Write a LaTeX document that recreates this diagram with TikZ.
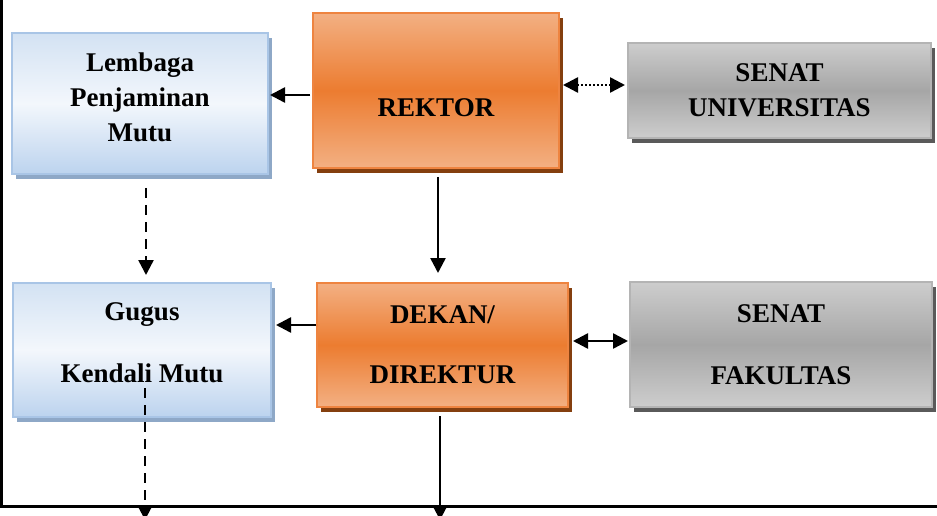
\documentclass[tikz,border=0pt]{standalone}
\usepackage{fontspec}
\setmainfont{Liberation Serif}
\usepackage{tikz}
\usetikzlibrary{shadows}
\usetikzlibrary{arrows.meta}

\definecolor{blueline}{HTML}{A9C5E6}
\definecolor{blueshade}{HTML}{8EA8C7}
\definecolor{bluetop}{HTML}{D3E2F3}
\definecolor{bluemid}{HTML}{F3F7FC}
\definecolor{bluebottom}{HTML}{BCD3EE}
\definecolor{orangeline}{HTML}{EE8440}
\definecolor{orangeshade}{HTML}{843F0F}
\definecolor{orangelight}{HTML}{F3B083}
\definecolor{orangemid}{HTML}{EC7C30}
\definecolor{grayline}{HTML}{B4B4B4}
\definecolor{grayshade}{HTML}{5A5A5A}
\definecolor{graylight}{HTML}{CDCDCD}
\definecolor{graymid}{HTML}{A6A6A6}

\begin{document}
\begin{tikzpicture}[
            x=1pt, y=1pt,
            font=\fontsize{27}{35}\selectfont\bfseries,
            >={Triangle[length=15pt, width=15pt]},
            box/.style={rectangle, inner sep=0pt, outer sep=0pt, line width=1.5pt, align=center,
                drop shadow={fill=#1, opacity=1, shadow xshift=4pt, shadow yshift=-5pt}},
            blue node/.style={box=blueshade, draw=blueline, top color=bluetop, bottom color=bluebottom, middle color=bluemid},
            orange node/.style={box=orangeshade, draw=orangeline, top color=orangelight, bottom color=orangelight, middle color=orangemid},
            gray node/.style={box=grayshade, draw=grayline, top color=graylight, bottom color=graylight, middle color=graymid},
            arrow/.style={line width=2.5pt, ->},
            dashed arrow/.style={arrow, dash pattern=on 10pt off 7pt},
            ]
            \useasboundingbox (0,0) rectangle (937,515);
            \clip (0,0) rectangle (937,515);

            % frame
            \draw[line width=2.5pt] (1.5,515) -- (1.5,8.5) -- (937,8.5);

            \node[blue node, minimum width=256pt, minimum height=141pt, text depth=13pt] (lpm) at (140,411.5) {Lembaga\\Penjaminan\\Mutu};
            \node[orange node, minimum width=246pt, minimum height=155pt, text height=52pt, text depth=0pt] (rektor) at (436,424.5) {REKTOR};
            \node[gray node, minimum width=303pt, minimum height=95pt] (senatu) at (779.5,424.5) {SENAT\\UNIVERSITAS};
            \node[blue node, minimum width=258pt, minimum height=134pt, text depth=14pt] (gugus) at (142,165) {Gugus\\[27pt]Kendali Mutu};
            \node[orange node, minimum width=251pt, minimum height=124pt] (dekan) at (442.5,170) {DEKAN/\\[25pt]DIREKTUR};
            \node[gray node, minimum width=302pt, minimum height=125pt] (senatf) at (781,170.5) {SENAT\\[27pt]FAKULTAS};
            \coordinate (gout) at (145,-5);
            \coordinate (dout) at (440,-5);

            \draw[arrow, shorten <=3pt, shorten >=2pt] ([yshift=-4.5pt]rektor.west) -- ([yshift=-4.5pt]rektor.west -| lpm.east);
            \draw[line width=2.5pt, dash pattern=on 2pt off 2pt, <->, shorten <=4pt, shorten >=3pt] ([yshift=5.5pt]rektor.east) -- ([yshift=5.5pt]rektor.east -| senatu.west);
            \draw[arrow, shorten <=9pt, shorten >=10pt] ([xshift=2pt]rektor.south) -- ([xshift=2pt]rektor.south |- dekan.north);
            \draw[dashed arrow, shorten <=14pt, shorten >=8pt] ([xshift=6pt]lpm.south) -- ([xshift=6pt]lpm.south |- gugus.north);
            \draw[arrow, shorten <=1pt, shorten >=5pt] ([yshift=20pt]dekan.west) -- ([yshift=20pt]dekan.west -| gugus.east);
            \draw[line width=2.5pt, <->, shorten <=5pt, shorten >=2pt] ([yshift=4pt]dekan.east) -- ([yshift=4pt]dekan.east -| senatf.west);
            \draw[dashed arrow] ([xshift=3pt, yshift=-38pt]gugus.center) -- (gout);
            \draw[arrow, shorten <=9pt] ([xshift=-2.5pt]dekan.south) -- (dout);
        \end{tikzpicture}
\end{document}
